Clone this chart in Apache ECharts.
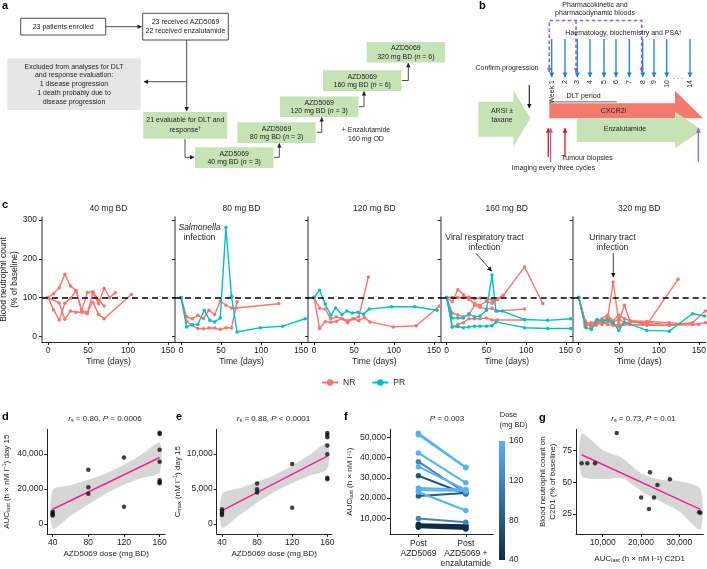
<!DOCTYPE html>
<html><head><meta charset="utf-8">
<script src="https://cdn.jsdelivr.net/npm/echarts@6/dist/echarts.min.js"></script>
<style>html,body{margin:0;padding:0;background:#fff}#c{width:707px;height:569px}</style>
</head><body><div id="c"></div>
<script>
// ---------------- DATA ----------------
// Panel c: blood neutrophil count (% of baseline) vs time (days); one array per patient
const c40_NR = [
  [[0,100],[7,110],[14,125],[21,160],[28,130],[35,118],[42,66],[49,113],[56,115],[63,94],[70,78]],
  [[0,100],[7,68],[14,42],[21,85],[28,98],[35,117],[42,65],[49,62],[56,88],[63,57],[70,45],[104,108]],
  [[0,100],[14,86],[21,44],[28,65],[35,62],[42,62],[49,58],[56,112],[63,84],[70,124],[77,100],[84,112]]
];
const c40_PR = [];
const c80_NR = [
  [[0,100],[7,50],[14,45],[21,54],[28,46],[35,67],[42,56],[49,91],[56,80],[63,73],[69,73],[122,84]],
  [[0,100],[7,38],[14,28],[21,20],[28,19],[35,21],[42,21],[49,17],[56,22],[63,21],[70,89]]
];
const c80_PR = [
  [[0,100],[7,24],[14,30],[21,30],[29,67],[36,41],[42,37],[49,47],[56,281],[63,103],[70,11],[99,22],[127,26],[155,45]]
];
const c120_NR = [
  [[0,100],[7,20],[14,38],[21,36],[28,38],[35,46],[42,40],[49,45],[56,50],[68,153]],
  [[0,100],[7,72],[14,70],[21,45],[28,50],[35,45],[42,35],[49,45],[56,40],[63,48],[70,37],[99,24],[128,27],[157,78]]
];
const c120_PR = [
  [[0,100],[7,119],[14,83],[21,54],[27,73],[35,56],[41,65],[48,60],[55,62],[62,57],[69,70],[97,76],[126,76],[154,67]]
];
const c160_NR = [
  [[0,100],[7,89],[14,120],[21,108],[28,95],[35,85],[42,80],[50,90],[57,85],[64,95],[71,105],[98,179],[121,84]],
  [[0,100],[7,100],[14,100],[21,100],[28,101],[35,97],[42,99],[50,98],[57,93],[64,97],[71,105]],
  [[0,100],[7,60],[14,55],[21,50],[28,55],[35,80],[42,75],[50,70],[57,72],[64,65],[98,70]],
  [[0,100],[7,24],[14,30],[21,35],[28,45],[35,45],[42,45],[50,47],[57,42],[64,42],[98,42]]
];
const c160_PR = [
  [[0,100],[7,47],[14,47],[21,47],[28,58],[35,50],[42,52],[50,67],[57,158],[62,65],[70,65],[98,43],[127,41],[156,45]],
  [[0,100],[7,24],[14,25],[21,22],[28,24],[35,26],[42,26],[50,26],[57,27],[62,37],[98,22],[127,20],[156,20]]
];
const c320_NR = [
  [[0,100],[8,35],[15,30],[22,38],[29,33],[36,45],[43,140],[50,38],[57,80],[64,40],[85,30],[124,147]],
  [[0,100],[8,25],[15,32],[22,40],[29,35],[36,50],[43,35],[50,45],[57,35],[85,35],[113,30],[142,35],[158,65]],
  [[0,100],[8,40],[15,28],[22,30],[29,45],[36,55],[43,40],[50,55],[57,45],[64,40],[85,38],[113,35],[142,30],[158,35]],
  [[0,100],[8,30],[15,35],[22,35],[29,30],[36,38],[43,30],[50,25],[57,30],[85,30],[113,28],[142,33]],
  [[0,100],[8,38],[15,25],[22,28],[29,38],[36,30],[43,28],[50,30],[57,33],[64,30],[85,28],[113,28],[150,30]]
];
const c320_PR = [
  [[0,100],[9,22],[16,17],[23,43],[30,40],[37,42],[43,35],[50,15],[57,37],[85,15],[113,13],[142,58],[157,52]]
];
const cTitles = ['40 mg BD','80 mg BD','120 mg BD','160 mg BD','320 mg BD'];
const cTicksX = [0,50,100,150];
const cTicksY = [0,100,200,300];

// Panel d: AUClast day 15 vs dose
const dDose = [40,40,40,40,80,80,80,120,120,160,160,160,160,160,160,160];
const dAUC  = [4800,5500,6200,7000,31000,21000,17300,37900,9900,52000,51300,42300,35500,25000,24000,23200];
const dFit  = [[40,8400],[160,37900]];
const dBandX = [40,60,80,100,120,140,160];
const dBandLo = [-2600,4500,11200,17450,22370,26180,29400];
const dBandHi = [19400,22120,25230,28850,33770,39780,46400];

// Panel e: Cmax day 15 vs dose
const eDose = [40,40,40,40,80,80,80,120,120,160,160,160,160,160,160,160];
const eCmax = [2100,1800,1500,1300,5800,4950,4500,8570,2330,13000,12700,12400,11200,9950,6600,6400];
const eFit  = [[40,1900],[160,9700]];
const eBandX = [40,60,80,100,120,140,160];
const eBandLo = [-500,1300,3000,4600,5850,6900,7850];
const eBandHi = [4300,5100,6000,7000,8350,9900,11550];

// Panel f: AUClast post AZD5069 vs post AZD5069 + enzalutamide, per patient
const fDose  = [160,160,160,160,160,160,160,120,120,80,80,40,40,40,40];
const fPre   = [52000,51300,42300,35500,25000,24000,23000,38000,9900,31000,21000,7000,6500,6000,5500];
const fPost  = [35200,35000,27500,24000,24200,23500,13800,22500,8000,22000,22500,6500,5800,5000,4700];
const fCats  = ['Post\nAZD5069','Post\nAZD5069 +\nenzalutamide'];
const doseTicks = [40,80,120,160];

// Panel g: neutrophil count C2D1 vs AUClast C2D1
const gAUC = [4500,5980,7990,13650,20050,22350,22090,23400,24300,27550,35200,35500];
const gNeu = [65,65,65,89,38,58,29,38,48,52.5,26.3,26];
const gFit = [[4500,71.8],[35500,28.7]];
const gBandX = [4500,10000,15000,20000,25000,30000,35500];
const gBandLo = [55.3,52.6,53.4,43.2,35.0,27.0,12.7];
const gBandHi = [88.3,75.6,69.4,57.2,52.0,51.0,44.7];

// ---------------- STYLE ----------------
const FONT = "'Liberation Sans', Arial, Helvetica, sans-serif";
const RED = '#F8766D', TEAL = '#00BFC4', PINK = '#F2248E', BAND = '#d6d6d6';
const GREEN = '#c6e3b6';
const fmt = v => String(v).replace(/\B(?=(\d{3})+(?!\d))/g, ',');
function doseColor(d) {
  const a = [0x13,0x2B,0x43], b = [0x56,0xB1,0xF7], t = (d-40)/120;
  return 'rgb(' + a.map((v,i)=>Math.round(v+(b[i]-v)*t)).join(',') + ')';
}

// ---------------- GRAPHIC (panels a, b, labels) ----------------
const G = [];
function txt(x,y,text,o={}) {
  G.push({type:'text', x, y, rotation:o.rot||0, z:20, silent:true,
    style:{text, fontSize:o.fs||7, fontFamily:FONT, fill:o.color||'#222', align:o.align||'center',
      verticalAlign:o.va||'middle', fontWeight:o.fw||'normal', fontStyle:o.it?'italic':'normal',
      rich:o.rich, lineHeight:o.lh}});
}
function rect(x,y,w,h,fill,stroke) {
  G.push({type:'rect', z:10, shape:{x,y,width:w,height:h}, style:{fill, stroke:stroke||null, lineWidth:stroke?0.8:0}});
}
function pgon(points, fill, z) { G.push({type:'polygon', z:z||10, shape:{points}, style:{fill}}); }
function arrow(points, color, w, dash, L) {
  L = L || 4;
  G.push({type:'polyline', z:12, shape:{points}, style:{stroke:color, lineWidth:w||1, fill:null, lineDash:dash||null}});
  const p0 = points[points.length-2], p1 = points[points.length-1];
  const dx = p1[0]-p0[0], dy = p1[1]-p0[1], len = Math.hypot(dx,dy), ux = dx/len, uy = dy/len;
  const bx = p1[0]-ux*L, by = p1[1]-uy*L, W = L*0.55;
  G.push({type:'polygon', z:12, shape:{points:[[p1[0]+ux*0.5,p1[1]+uy*0.5],[bx-uy*W,by+ux*W],[bx+uy*W,by-ux*W]]}, style:{fill:color}});
}
const richBox = {t:{fontSize:7,fontFamily:FONT,fill:'#222'}, i:{fontSize:7,fontFamily:FONT,fill:'#222',fontStyle:'italic'},
  sup:{fontSize:5,fontFamily:FONT,fill:'#222',verticalAlign:'top'}};

// panel letters
[['a',2,6],['b',479,6],['c',2,205],['d',2,417],['e',176,417],['f',344,417],['g',539,418]].forEach(p =>
  txt(p[1],p[2],p[0],{fs:11,fw:'bold',align:'left',color:'#000'}));

// ---- panel a ----
rect(20.7,18.3,85,16.7,'#fff','#222'); txt(63.2,26.7,'23 patients enrolled');
arrow([[105.7,26.7],[141.5,26.7]],'#222',0.8);
rect(142.7,13.3,85.6,26.7,'#fff','#222'); txt(185.5,22.3,'23 received AZD5069'); txt(185.5,31.3,'22 received enzalutamide');
arrow([[186.7,40],[186.7,111]],'#222',0.8);
arrow([[186.7,81.7],[144,81.7]],'#222',0.8);
rect(7.3,58.3,133.4,51.7,'#e6e6e6');
['Excluded from analyses for DLT','and response evaluation:','1 disease progression','1 death probably due to','disease progression']
  .forEach((s,i)=>txt(74,66.8+i*8.7,s));
rect(143.3,112,84,26.7,GREEN); txt(185.3,120.5,'21 evaluable for DLT and');
txt(185.3,129.8,'{t|response}{sup|†}',{rich:richBox});
arrow([[185,139],[185,157.3],[194,157.3]],'#222',0.8);
const boxes = [[195,147.3,'40','3'],[237.3,122.3,'80','3'],[280,96.4,'120','3'],[323,70.3,'160','6'],[366.7,42,'320','6']];
boxes.forEach(b => {
  rect(b[0],b[1],78.4,20.6,GREEN);
  txt(b[0]+39.2,b[1]+6.3,'AZD5069');
  txt(b[0]+39.2,b[1]+15,'{t|'+b[2]+' mg BD (}{i|n}{t| = '+b[3]+')}',{rich:richBox});
});
arrow([[274,157.3],[279.3,157.3],[279.3,143.6]],'#222',0.8);
arrow([[316.7,132.3],[321.7,132.3],[321.7,117.6]],'#222',0.8);
arrow([[359,106.7],[364,106.7],[364,91.5]],'#222',0.8);
arrow([[402,80.5],[408.3,80.5],[408.3,63.3]],'#222',0.8);
txt(366,130,'+ Enzalutamide'); txt(366,139.5,'160 mg OD');

// ---- panel b ----
txt(595,5.5,'Pharmacokinetic and'); txt(595,13.5,'pharmacodynamic bloods');
const PURP = '#9b63c9', BLUE = '#1f80d2', DRED = '#d7191c';
G.push({type:'polyline', z:12, shape:{points:[[549.3,68],[549.3,20.5],[641.7,20.5],[641.7,68]]}, style:{stroke:PURP,lineWidth:1.6,fill:null,lineDash:[3.5,2.5]}});
arrow([[549.3,66],[549.3,72]],PURP,1.6);
arrow([[576,20.5],[576,72]],PURP,1.6,[3.5,2.5]);
arrow([[641.7,66],[641.7,72]],PURP,1.6);
txt(623.5,33.5,'{t|Haematology, biochemistry and PSA}{sup|†}',{rich:richBox});
const weekX = [551.7,565,577.3,590,604,616,629.3,642.7,654,666.7,690];
const weekL = ['Week 1','2','3','4','5','6','7','8','9','10','14'];
weekX.forEach((x,i)=>{ arrow([[x,39],[x,77]],BLUE,1.3,null,4.5); txt(x,80,weekL[i],{rot:Math.PI/2,align:'right'}); });
txt(678,77,'. . .');
txt(583.5,96.2,'DLT period');
G.push({type:'line', z:12, shape:{x1:550,y1:101.7,x2:616.7,y2:101.7}, style:{stroke:'#999',lineWidth:1.4}});
txt(507,68.3,'Confirm progression');
arrow([[529.3,85],[529.3,108]],'#111',1.1);
pgon([[478.3,101.7],[513.3,101.7],[513.3,90],[530.5,118.3],[513.3,146.7],[513.3,136.7],[478.3,136.7]],GREEN);
txt(502,111,'ARSI ±'); txt(502,120,'taxane');
pgon([[549.3,103.3],[675,103.3],[675,90.7],[703,118.3],[549.3,118.3]],'#f47a6e',10);
pgon([[576.7,118.3],[675,118.3],[675,111.7],[702,130],[675,148.3],[675,142],[576.7,142]],GREEN,11);
txt(613.5,111,'CXCR2i'); txt(625,129,'Enzalutamide');
arrow([[548.3,157],[548.3,128.3]],DRED,1.3,null,4.5);
arrow([[565,157],[565,128.3]],DRED,1.3,null,4.5);
arrow([[550.6,162],[550.6,128.3]],PURP,1.3,null,4.5);
arrow([[698.3,162],[698.3,128.3]],PURP,1.3,null,4.5);
txt(587,158.3,'Tumour biopsies'); txt(553.5,168.3,'Imaging every three cycles');

// ---- panel c titles and annotations ----
const cLeft = [42,175,308,440.7,572.7], cW = [133,133,132.7,132,133];
cTitles.forEach((t,i)=>txt(cLeft[i]+cW[i]/2,209,t,{fs:8.5}));
txt(199.5,227.5,'Salmonella',{fs:8.5,it:true}); txt(199.5,237.5,'infection',{fs:8.5});
txt(484.5,237.5,'Viral respiratory tract',{fs:8.5}); txt(484.5,247.5,'infection',{fs:8.5});
arrow([[476,253.3],[491.5,271]],'#111',0.8,null,4);
txt(612.5,237.5,'Urinary tract',{fs:8.5}); txt(612.5,247.5,'infection',{fs:8.5});
arrow([[613.3,253.3],[613.3,277]],'#111',0.8,null,4);

// ---- titles for d-g ----
const richT = {a:{fontSize:8,fontFamily:FONT,fill:'#222'}, i:{fontSize:8,fontFamily:FONT,fill:'#222',fontStyle:'italic'},
  s:{fontSize:5.5,fontFamily:FONT,fill:'#222',verticalAlign:'bottom',padding:[3,0,0,0]}};
txt(105,419,'{i|r}{s|s}{a| = 0.80, }{i|P}{a| = 0.0006}',{rich:richT});
txt(273.5,419,'{i|r}{s|s}{a| = 0.88, }{i|P}{a| < 0.0001}',{rich:richT});
txt(447,419,'{i|P}{a| = 0.003}',{rich:richT});
txt(643.5,419,'{i|r}{s|s}{a| = 0.73, }{i|P}{a| = 0.01}',{rich:richT});
txt(508.5,415,'Dose',{fs:7.5}); txt(513.5,425,'(mg BD)',{fs:7.5});

// ---------------- CHART ----------------
const grids = [], xAxes = [], yAxes = [], series = [];
const axLine = (c,w)=>({show:true, onZero:false, lineStyle:{color:c||'#222', width:w||1}});
const tickSt = {color:'#222', fontSize:8.5, fontFamily:FONT};
const richAx = {a:{fontSize:8,fontFamily:FONT,fill:'#222'}, b:{fontSize:5.5,fontFamily:FONT,fill:'#222',verticalAlign:'bottom'},
  c:{fontSize:5.5,fontFamily:FONT,fill:'#222',verticalAlign:'top'}};

// panel c
const cNR = [c40_NR,c80_NR,c120_NR,c160_NR,c320_NR], cPR = [c40_PR,c80_PR,c120_PR,c160_PR,c320_PR];
for (let i=0;i<5;i++) {
  grids.push({left:cLeft[i], top:217, width:cW[i], height:125, outerBoundsMode:'none'});
  xAxes.push({gridIndex:i, type:'value', min:-7.5, max:158.5, axisLine:axLine('#222',1),
    axisTick:{show:true, length:3, customValues:cTicksX, lineStyle:{color:'#222'}},
    axisLabel:{customValues:cTicksX, margin:4, ...tickSt}, splitLine:{show:false},
    name:'Time (days)', nameLocation:'middle', nameGap:15, nameTextStyle:{fontSize:8.5, fontFamily:FONT, color:'#222'}});
  yAxes.push({gridIndex:i, type:'value', min:-15, max:308, axisLine:axLine('#7a7a7a',1.6),
    axisTick:{show:true, length:3, customValues:cTicksY, lineStyle:{color:'#222'}},
    axisLabel:{show:i===0, customValues:cTicksY, margin:5, ...tickSt}, splitLine:{show:false},
    name: i===0 ? 'Blood neutrophil count\n(% of baseline)' : '', nameLocation:'middle', nameGap:22, nameMoveOverlap:false,
    nameTextStyle:{fontSize:8.5, fontFamily:FONT, color:'#222', lineHeight:11}});
  let first = true;
  const mk = {silent:true, symbol:'none', label:{show:false}, lineStyle:{color:'#000', type:[6,4], width:1.5}, data:[{yAxis:100}]};
  cNR[i].forEach(p => { series.push({type:'line', name:'NR', xAxisIndex:i, yAxisIndex:i, data:p, symbol:'circle', symbolSize:3.5,
    color:RED, lineStyle:{width:1.4}, z:3, markLine: first ? mk : undefined}); first = false; });
  cPR[i].forEach(p => { series.push({type:'line', name:'PR', xAxisIndex:i, yAxisIndex:i, data:p, symbol:'circle', symbolSize:3.5,
    color:TEAL, lineStyle:{width:1.4}, z:4}); });
}

function bandSeries(gi, bx, lo, hi) {
  return {type:'custom', xAxisIndex:gi, yAxisIndex:gi, data:[[bx[0],lo[0]]], z:1, silent:true, clip:true,
    renderItem:(params, api) => {
      const pts = [];
      for (let k=0;k<bx.length;k++) pts.push(api.coord([bx[k],hi[k]]));
      for (let k=bx.length-1;k>=0;k--) pts.push(api.coord([bx[k],lo[k]]));
      return {type:'polygon', shape:{points:pts, smooth:0.25}, style:{fill:BAND}};
    }};
}
function scatterPanel(gi, grid, xr, yr, xt, yt, xs, ys, fit, bx, lo, hi, xname, yname, ygap) {
  grids.push({...grid, outerBoundsMode:'none'});
  xAxes.push({gridIndex:gi, type:'value', min:xr[0], max:xr[1], axisLine:axLine(), splitLine:{show:false},
    axisTick:{show:true,length:3,customValues:xt,lineStyle:{color:'#222'}},
    axisLabel:{customValues:xt, margin:4, formatter:v=>fmt(v), ...tickSt},
    name:xname, nameLocation:'middle', nameGap:16, nameTextStyle:{fontSize:8, fontFamily:FONT, color:'#222', rich:richAx}});
  yAxes.push({gridIndex:gi, type:'value', min:yr[0], max:yr[1], axisLine:axLine(), splitLine:{show:false},
    axisTick:{show:true,length:3,customValues:yt,lineStyle:{color:'#222'}},
    axisLabel:{customValues:yt, margin:4, formatter:v=>fmt(v), ...tickSt},
    name:yname, nameLocation:'middle', nameGap:ygap, nameTextStyle:{fontSize:8, fontFamily:FONT, color:'#222', rich:richAx, lineHeight:10}});
  series.push(bandSeries(gi,bx,lo,hi));
  series.push({type:'line', xAxisIndex:gi, yAxisIndex:gi, data:fit, symbol:'none', color:PINK, lineStyle:{width:1.5}, z:3, silent:true});
  series.push({type:'scatter', xAxisIndex:gi, yAxisIndex:gi, data:xs.map((x,k)=>[x,ys[k]]), symbolSize:4.5, color:'#111', z:4});
}
// d
scatterPanel(5, {left:47.3, top:429.3, width:117.7, height:104.7}, [34,166], [-5700,54000], doseTicks, [0,20000,40000],
  dDose, dAUC, dFit, dBandX, dBandLo, dBandHi, 'AZD5069 dose (mg BD)',
  '{a|AUC}{b|last}{a| (h × nM l}{c|−1}{a|) day 15}', 36);
// e
scatterPanel(6, {left:216.7, top:429.3, width:115, height:104.7}, [34,165], [-1430,13530], doseTicks, [0,5000,10000],
  eDose, eCmax, eFit, eBandX, eBandLo, eBandHi, 'AZD5069 dose (mg BD)',
  '{a|C}{b|max}{a| (nM l}{c|−1}{a|) day 15}', 34);
// g (index 7)
scatterPanel(7, {left:576, top:429.3, width:127.3, height:104.7}, [3030,36270], [9.2,91.9], [10000,20000,30000], [25,50,75],
  gAUC, gNeu, gFit, gBandX, gBandLo, gBandHi, '{a|AUC}{b|last}{a| (h × nM l}{c|−1}{a|) C2D1}',
  'Blood neutrophil count on\nC2D1 (% of baseline)', 18);
xAxes[7].nameGap = 21;

// f (index 8)
grids.push({left:390, top:429.3, width:103.3, height:104.7, outerBoundsMode:'none'});
xAxes.push({gridIndex:8, type:'value', min:0.4, max:2.58, axisLine:axLine(), splitLine:{show:false},
  axisTick:{show:true,length:3,customValues:[1,2],lineStyle:{color:'#222'}},
  axisLabel:{customValues:[1,2], margin:5, lineHeight:10, formatter:v=>fCats[Math.round(v)-1], ...tickSt}});
yAxes.push({gridIndex:8, type:'value', min:2200, max:54000, axisLine:axLine(), splitLine:{show:false},
  axisTick:{show:true,length:3,customValues:[10000,20000,30000,40000,50000],lineStyle:{color:'#222'}},
  axisLabel:{customValues:[10000,20000,30000,40000,50000], margin:4, formatter:v=>fmt(v), ...tickSt},
  name:'{a|AUC}{b|last}{a| (h × nM l}{c|−1}{a|)}', nameLocation:'middle', nameGap:36,
  nameTextStyle:{fontSize:8, fontFamily:FONT, color:'#222', rich:richAx}});
fPre.forEach((v,k)=>series.push({type:'line', xAxisIndex:8, yAxisIndex:8, data:[[1,v],[2,fPost[k]]],
  symbol:'circle', symbolSize:5.5, color:doseColor(fDose[k]), lineStyle:{width:2}, z:3+fDose[k]/100}));

// colour bar (index 9)
grids.push({left:499, top:441, width:6, height:119, outerBoundsMode:'none'});
xAxes.push({gridIndex:9, type:'value', min:0, max:1, show:false});
yAxes.push({gridIndex:9, type:'value', min:40, max:160, position:'right', axisLine:{show:false}, splitLine:{show:false},
  axisTick:{show:true, inside:true, length:1.5, customValues:doseTicks, lineStyle:{color:'#fff', width:0.8}},
  axisLabel:{customValues:doseTicks, margin:4, ...tickSt}});
series.push({type:'custom', xAxisIndex:9, yAxisIndex:9, data:[[0,40]], silent:true, z:1,
  renderItem:(params, api) => {
    const top = api.coord([0,160]), bot = api.coord([1,40]);
    return {type:'rect', shape:{x:top[0], y:top[1], width:bot[0]-top[0], height:bot[1]-top[1]},
      style:{fill:new echarts.graphic.LinearGradient(0,0,0,1,[{offset:0,color:doseColor(160)},{offset:1,color:doseColor(40)}])}};
  }});

const chart = echarts.init(document.getElementById('c'), null, {renderer:'canvas'});
chart.setOption({
  animation:false,
  backgroundColor:'#fff',
  textStyle:{fontFamily:FONT},
  grid:grids, xAxis:xAxes, yAxis:yAxes, series,
  legend:{data:['NR','PR'], left:316, top:373, itemWidth:16, itemHeight:8, itemGap:16,
    textStyle:{fontSize:8.5, fontFamily:FONT, color:'#222'}},
  graphic:{elements:G}
});
</script></body></html>
